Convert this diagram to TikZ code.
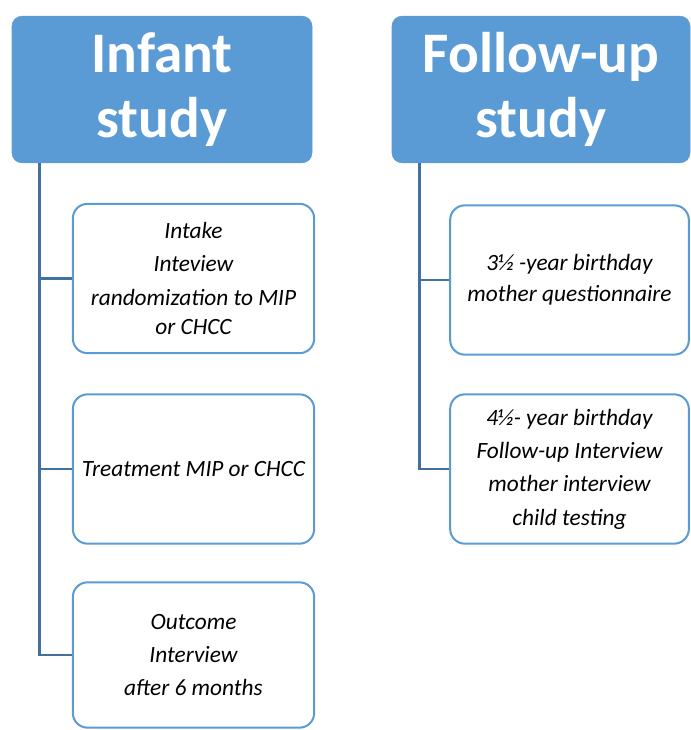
\documentclass[tikz,border=0pt]{standalone}
\usepackage{fontspec}
\setmainfont{Carlito}
\usetikzlibrary{positioning}
\definecolor{headblue}{HTML}{5B9BD5}
\definecolor{lineblue}{HTML}{41719C}

\begin{document}
\begin{tikzpicture}[x=0.75pt,y=-0.75pt,
  head/.style={draw=headblue,fill=headblue,rounded corners=7.5pt,minimum width=225pt,minimum height=110pt,text=white,font=\fontsize{43}{49}\selectfont\bfseries,align=center,inner sep=0pt},
  item/.style={draw=headblue,line width=1.5pt,fill=white,rounded corners=11pt,minimum width=181pt,minimum height=112pt,font=\fontsize{17.5}{25}\selectfont\itshape,align=center,inner sep=0pt},
  link/.style={draw=lineblue,line width=1.9pt}]
\useasboundingbox (0,0) rectangle (690,730);
\node[head](infant) at (162,89.5){Infant\\study};
\node[head,minimum width=223.5pt](followup) at (541,89.5){Follow-up\\study};
\node[item](intake) at (193.5,278.5){Intake\\Inteview\\randomization to MIP\\[-3pt]or CHCC};
\node[item](treat) at (193.5,469){Treatment MIP or CHCC};
\node[item,minimum height=109pt](outcome) at (193.5,655){Outcome\\Interview\\after 6 months};
\node[item,minimum width=179pt](three) at (569.5,280){3½ -year birthday\\[-2pt]mother questionnaire};
\node[item,minimum width=179pt](four) at (569.5,469){4½- year birthday\\Follow-up Interview\\mother interview\\child testing};
\draw[link]([xshift=21pt]infant.south west)|-(intake.west);
\draw[link]([xshift=21pt]infant.south west)|-(treat.west);
\draw[link]([xshift=21pt]infant.south west)|-(outcome.west);
\draw[link]([xshift=21pt]followup.south west)|-(three.west);
\draw[link]([xshift=21pt]followup.south west)|-(four.west);
\end{tikzpicture}
\end{document}
